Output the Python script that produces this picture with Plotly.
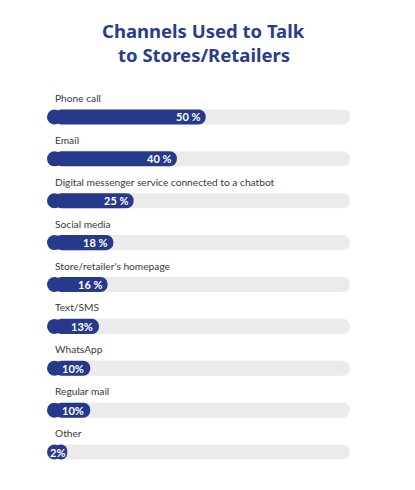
import plotly.graph_objects as go

channels = [
	"Phone call",
	"Email",
	"Digital messenger service connected to a chatbot",
	"Social media",
	"Store/retailer's homepage",
	"Text/SMS",
	"WhatsApp",
	"Regular mail",
	"Other",
]
shares = [50, 40, 25, 18, 16, 13, 10, 10, 2]
share_labels = ["50 %", "40 %", "25 %", "18 %", "16 %", "13%", "10%", "10%", "2%"]
track_max = 100
title_lines = ["Channels Used to Talk", "to Stores/Retailers"]

navy = "#26398a"
track = "#ebebeb"
label_font = "Lato, 'Open Sans', sans-serif"

# bars start a little left of zero, where the round cap sits
cap = -2.4
x_lo = -5

fig = go.Figure()

# grey track (its left end is hidden under the navy cap)
fig.add_trace(go.Bar(
	y=channels, x=[track_max - cap] * len(channels), base=cap,
	orientation="h", width=0.36,
	marker=dict(color=track, cornerradius=8, line=dict(width=0)),
	hoverinfo="skip",
))

# values
fig.add_trace(go.Bar(
	y=channels, x=[v - cap for v in shares], base=cap,
	orientation="h", width=0.36,
	marker=dict(color=navy, cornerradius=8, line=dict(width=0)),
	hoverinfo="skip",
))
fig.add_trace(go.Scatter(
	y=channels, x=[cap] * len(channels), mode="markers",
	marker=dict(color=navy, size=15, line=dict(width=0)),
	hoverinfo="skip", cliponaxis=False,
))

for name, v, lab in zip(channels, shares, share_labels):
	# short pills have almost no room left of the text
	pad = 5 if v >= 10 else 1
	fig.add_annotation(
		x=v, xshift=-pad, xanchor="right",
		y=name, yanchor="middle",
		text=lab, showarrow=False, borderpad=0,
		font=dict(family=label_font, size=11, color="white", weight="bold"),
	)
	fig.add_annotation(
		xref="paper", x=0, xshift=6, xanchor="left",
		y=name, yshift=19, yanchor="middle",
		text=name, showarrow=False,
		font=dict(family=label_font, size=10.2, color="#3a3a3a"),
	)

for i, line in enumerate(title_lines):
	fig.add_annotation(
		xref="paper", x=0.518, xanchor="center",
		yref="paper", y=1, yanchor="middle", yshift=66 - 24 * i,
		text=line, showarrow=False,
		font=dict(family="'Noto Sans', Lato, sans-serif", size=18.5, color="#2a3c8c", weight="bold"),
	)

# page body has an 8px margin, so the figure is drawn 8px smaller
fig.update_layout(
	width=407, height=482,
	margin=dict(l=39, r=65, t=88, b=17),
	barmode="overlay",
	showlegend=False,
	plot_bgcolor="white",
	paper_bgcolor="white",
	xaxis=dict(range=[x_lo, track_max], visible=False, fixedrange=True),
	yaxis=dict(range=[len(channels) - 0.5, -0.5], visible=False, fixedrange=True),
)

fig.write_html("out.html")
